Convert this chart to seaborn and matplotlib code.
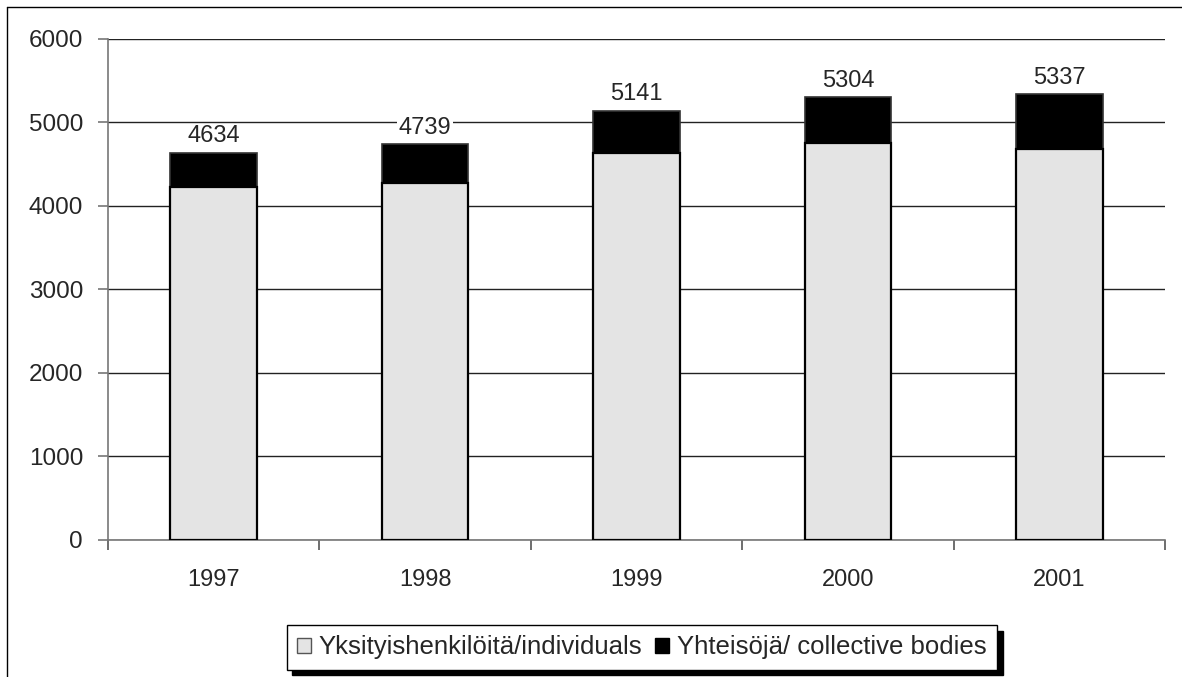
import pandas as pd
import seaborn as sns
import matplotlib.pyplot as plt
from matplotlib.lines import Line2D
from matplotlib.patches import Patch

# values
years = ["1997", "1998", "1999", "2000", "2001"]
totals = [4634, 4739, 5141, 5304, 5337]
individuals = [4224, 4272, 4631, 4751, 4679]

df = pd.DataFrame({"year": years, "total": totals, "individuals": individuals})

sns.set_style("white")
plt.rcParams["font.family"] = ["Liberation Sans", "DejaVu Sans"]

fig = plt.figure(figsize=(11.82, 6.77), dpi=100)
ax = fig.add_axes([0.0914, 0.2024, 0.8942, 0.74])

# black = total (collective bodies on top), grey = individuals
sns.barplot(data=df, x="year", y="total", color="black", width=0.41,
            edgecolor="#333333", linewidth=1.2, saturation=1, ax=ax, zorder=3)
sns.barplot(data=df, x="year", y="individuals", color="#e4e4e4", width=0.41,
            edgecolor="black", linewidth=1.6, saturation=1, ax=ax, zorder=4)

# total labels, white box hides the grid line behind the text
for i, t in enumerate(totals):
    ax.annotate(str(t), (i, t), xytext=(0, 4), textcoords="offset points",
                ha="center", va="bottom", fontsize=17, zorder=2,
                bbox=dict(facecolor="white", edgecolor="none", pad=1))

ax.set_ylim(0, 6000)
ax.set_xlim(-0.5, 4.5)
ax.set_yticks(range(0, 6001, 1000))
ax.yaxis.grid(True, color="#222222", linewidth=1)
ax.set_axisbelow(True)
ax.set_xlabel("")
ax.set_ylabel("")

for s in ["top", "right"]:
    ax.spines[s].set_visible(False)
for s in ["left", "bottom"]:
    ax.spines[s].set_color("#777777")
    ax.spines[s].set_linewidth(1.2)

ax.set_xticks([x - 0.5 for x in range(6)], minor=True)
ax.tick_params(axis="x", which="major", length=0, pad=21, labelsize=17)
ax.tick_params(axis="x", which="minor", length=7, width=1.2, color="#555555",
               direction="out", bottom=True)
ax.tick_params(axis="y", length=7, width=1.2, color="#777777", direction="out",
               left=True, pad=11, labelsize=17.5)

handles = [Patch(facecolor="#e4e4e4", edgecolor="#555555", label="Yksityishenkilöitä/individuals"),
           Patch(facecolor="black", edgecolor="black", label="Yhteisöjä/ collective bodies")]
leg = fig.legend(handles=handles, loc="center", bbox_to_anchor=(0.543, 0.0436), ncol=2,
                 fontsize=18.5, frameon=True, fancybox=False,
                 shadow={"color": "black", "ox": 4, "oy": -4, "alpha": 1},
                 handlelength=0.55, handleheight=0.55, handletextpad=0.3,
                 columnspacing=0.5, borderpad=0.4, borderaxespad=0)
leg.get_frame().set_edgecolor("black")
leg.get_frame().set_linewidth(1)

# outer chart border (top and left edges visible)
fig.add_artist(Line2D([7 / 1182, 1], [1 - 7 / 677, 1 - 7 / 677], color="black", lw=1))
fig.add_artist(Line2D([7 / 1182, 7 / 1182], [0, 1 - 7 / 677], color="black", lw=1))

fig.savefig("out.png", dpi=100)
